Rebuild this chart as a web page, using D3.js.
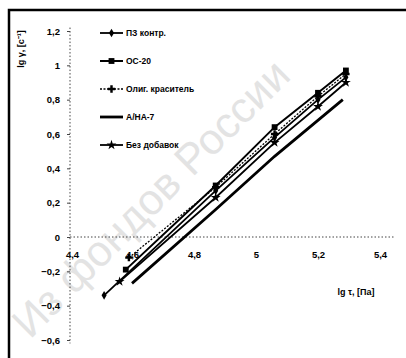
<!DOCTYPE html>
<html><head><meta charset="utf-8">
<script src="https://cdn.jsdelivr.net/npm/d3@7"></script>
<style>
html,body{margin:0;padding:0;background:#fff;}
svg{display:block;}
text{font-family:"Liberation Sans Narrow","Arial Narrow","Liberation Sans",Arial,sans-serif;font-weight:bold;fill:#000;}
</style></head><body>
<svg id="c" width="406" height="358"></svg>
<script>
// ---- data ----
const seriesNames = ["ПЗ контр.", "ОС-20", "Олиг. краситель", "А/НА-7", "Без добавок"];
const pzX = [4.51, 4.87, 5.06, 5.20, 5.29];
const pzY = [-0.34, 0.27, 0.58, 0.80, 0.93];
const osX = [4.58, 4.87, 5.06, 5.20, 5.29];
const osY = [-0.19, 0.30, 0.64, 0.84, 0.97];
const oligX = [4.59, 4.87, 5.06, 5.20, 5.29];
const oligY = [-0.12, 0.29, 0.60, 0.82, 0.95];
const anaX = [4.60, 4.87, 5.06, 5.28];
const anaY = [-0.27, 0.16, 0.47, 0.80];
const bezX = [4.56, 4.87, 5.06, 5.20, 5.29];
const bezY = [-0.26, 0.23, 0.55, 0.76, 0.90];
const xTicks = [4.4, 4.6, 4.8, 5.0, 5.2, 5.4];
const yTicks = [-0.6, -0.4, -0.2, 0, 0.2, 0.4, 0.6, 0.8, 1.0, 1.2];
const xTitle = "lg τ, [Па]";
const yTitle = "lg γ, [с⁻¹]";
const watermark = "Из фондов России";

// ---- styles ----
const styles = [
  {marker:"diamond", dash:null, width:1.8, msize:22},
  {marker:"square", dash:null, width:2, msize:34},
  {marker:"cross", dash:"2,1.5", width:1.3, msize:30},
  {marker:null, dash:null, width:2.8, msize:0},
  {marker:"star", dash:null, width:1.8, msize:30}
];
const data = [
  pzX.map((x,i)=>({x, y:pzY[i]})),
  osX.map((x,i)=>({x, y:osY[i]})),
  oligX.map((x,i)=>({x, y:oligY[i]})),
  anaX.map((x,i)=>({x, y:anaY[i]})),
  bezX.map((x,i)=>({x, y:bezY[i]}))
];

const svg = d3.select("#c");
const x = d3.scaleLinear().domain([4.4, 5.4]).range([70, 380]);
const y = d3.scaleLinear().domain([0, 1.2]).range([237, 31]);
const fmt = d => d3.format("~g")(d).replace(".", ",");

// watermark
svg.append("text").attr("transform","translate(30,340) rotate(-45)")
  .attr("font-size",43).style("font-weight","normal").style("fill","#e3e3e3")
  .style("font-family","Liberation Sans, Arial, sans-serif")
  .text(watermark);

// frame
svg.append("path").attr("d","M9,358 V10 H406").attr("fill","none").attr("stroke","#000").attr("stroke-width",2.5);

// axes
const xAxis = d3.axisBottom(x).tickValues(xTicks).tickSize(0).tickFormat(fmt);
const gx = svg.append("g").attr("transform",`translate(0,${y(0)})`).call(xAxis);
gx.select(".domain").attr("stroke","#444").attr("stroke-dasharray","1.5,2").attr("d",`M${x(4.4)},0H395`);
gx.selectAll("text").attr("dy","1.9em").attr("font-size",9.5).attr("dx", d=> d===4.4 ? 2 : 0);

const yAxis = d3.axisLeft(y).tickValues(yTicks).tickSize(3).tickPadding(5).tickFormat(fmt);
const gy = svg.append("g").attr("transform",`translate(${x(4.4)},0)`).call(yAxis);
gy.select(".domain").attr("stroke","#444").attr("stroke-dasharray","1.5,2").attr("d",`M0,${y(1.22)}V${y(-0.62)}`);
gy.selectAll(".tick line").attr("stroke","#444");
gy.selectAll("text").attr("font-size",9.5).attr("dx",-2);

// titles
svg.append("text").attr("x",356).attr("y",295).attr("text-anchor","middle").attr("font-size",9).text(xTitle);
svg.append("text").attr("transform","translate(24,49) rotate(-90)").attr("text-anchor","middle").attr("font-size",9).text(yTitle);

// lines
const line = d3.line().x(d=>x(d.x)).y(d=>y(d.y));
const symMap = {diamond:d3.symbolDiamond, square:d3.symbolSquare, cross:d3.symbolCross, star:d3.symbolStar};
data.forEach((s,i)=>{
  const st = styles[i];
  svg.append("path").datum(s).attr("d",line).attr("fill","none").attr("stroke","#000")
    .attr("stroke-width",st.width).attr("stroke-dasharray",st.dash);
  if(st.marker){
    svg.selectAll(null).data(s).enter().append("path")
      .attr("d", d3.symbol().type(symMap[st.marker]).size(st.msize))
      .attr("transform", d=>`translate(${x(d.x)},${y(d.y)})`).attr("fill","#000");
  }
});

// legend
const lg = svg.append("g");
seriesNames.forEach((n,i)=>{
  const st = styles[i];
  const yy = 33 + i*28;
  lg.append("line").attr("x1",100).attr("x2",123).attr("y1",yy).attr("y2",yy)
    .attr("stroke","#000").attr("stroke-width",st.width).attr("stroke-dasharray",st.dash);
  if(st.marker){
    lg.append("path").attr("d",d3.symbol().type(symMap[st.marker]).size(st.msize))
      .attr("transform",`translate(111.5,${yy})`).attr("fill","#000");
  }
  lg.append("text").attr("x",126).attr("y",yy).attr("dy","0.35em").attr("font-size",8.5).text(n);
});
</script>
</body></html>
